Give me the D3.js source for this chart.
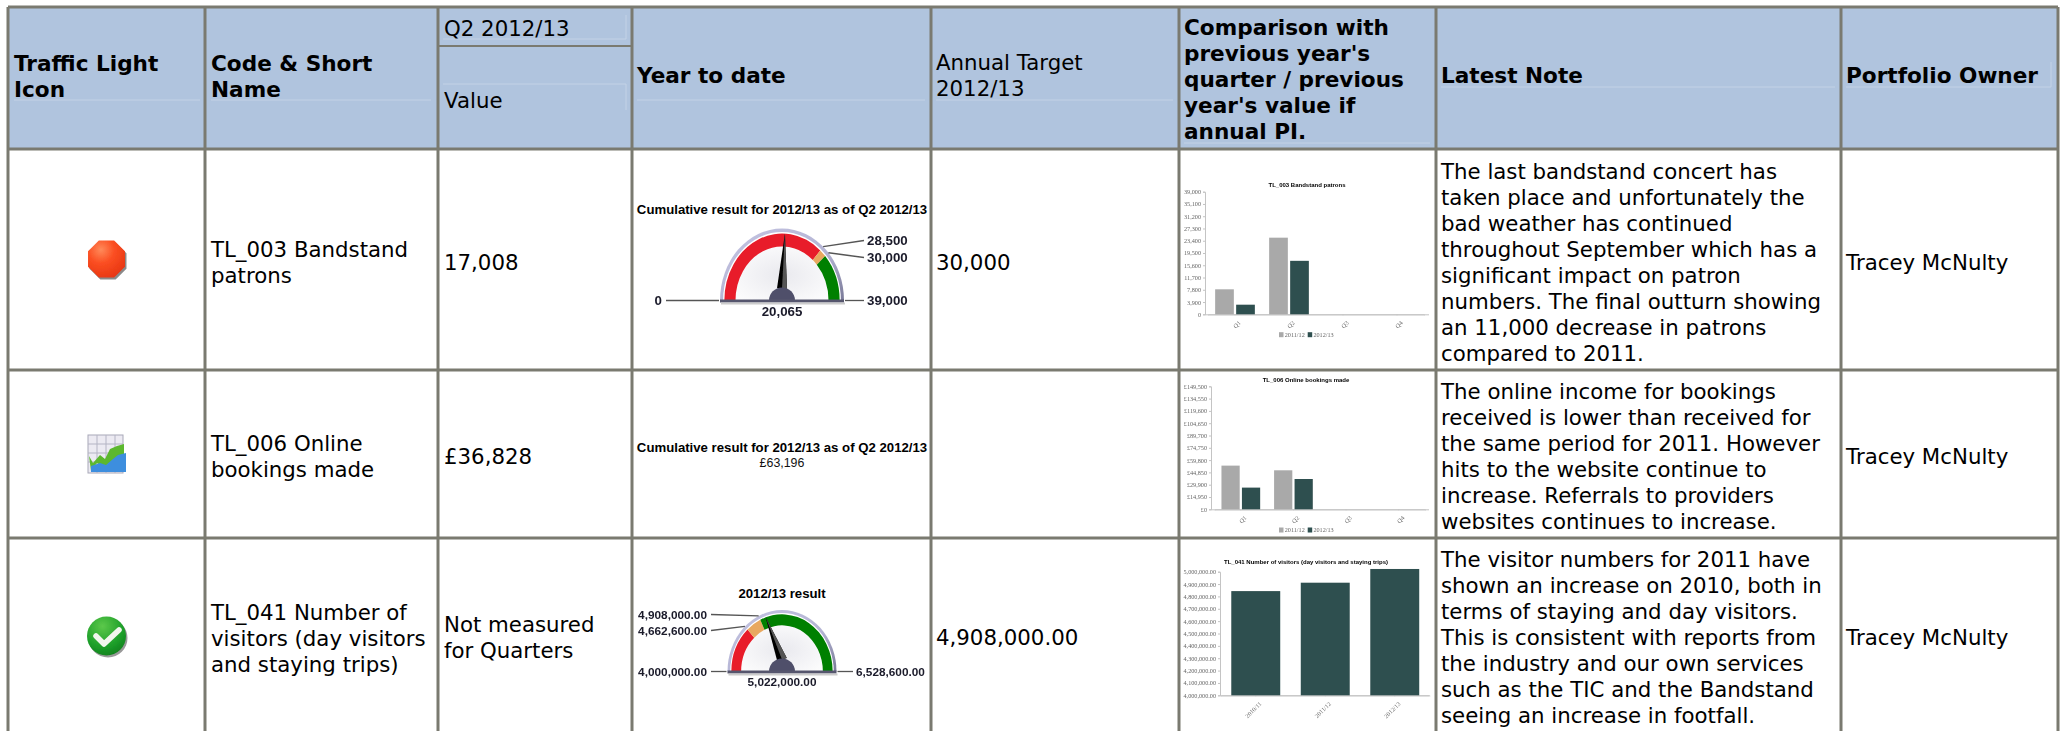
<!DOCTYPE html>
<meta charset="utf-8">
<style>
body { margin: 0; background: #fff; }
svg { display: block; }
</style>
<body>
<script src="https://d3js.org/d3.v7.min.js"></script>
<script>

// Table content.

var headerLabels = [
  ["Traffic Light", "Icon"],
  ["Code & Short", "Name"],
  ["Year to date"],
  ["Annual Target", "2012/13"],
  ["Comparison with", "previous year's", "quarter / previous", "year's value if", "annual PI."],
  ["Latest Note"],
  ["Portfolio Owner"]
];
var periodLabel = "Q2 2012/13";
var valueLabel = "Value";
var shortNames = [
  ["TL_003 Bandstand", "patrons"],
  ["TL_006 Online", "bookings made"],
  ["TL_041 Number of", "visitors (day visitors", "and staying trips)"]
];
var quarterValues = [["17,008"], ["£36,828"], ["Not measured", "for Quarters"]];
var annualTargets = ["30,000", "", "4,908,000.00"];
var owners = ["Tracey McNulty", "Tracey McNulty", "Tracey McNulty"];
var notes = [
  ["The last bandstand concert has", "taken place and unfortunately the", "bad weather has continued",
   "throughout September which has a", "significant impact on patron", "numbers. The final outturn showing",
   "an 11,000 decrease in patrons", "compared to 2011."],
  ["The online income for bookings", "received is lower than received for", "the same period for 2011. However",
   "hits to the website continue to", "increase. Referrals to providers", "websites continues to increase."],
  ["The visitor numbers for 2011 have", "shown an increase on 2010, both in", "terms of staying and day visitors.",
   "This is consistent with reports from", "the industry and our own services", "such as the TIC and the Bandstand",
   "seeing an increase in footfall."]
];

// Gauge values.

var gaugeTitles = ["Cumulative result for 2012/13 as of Q2 2012/13", "Cumulative result for 2012/13 as of Q2 2012/13", "2012/13 result"];
var patronsGauge = [0, 28500, 30000, 39000];
var patronsGaugeText = ["0", "28,500", "30,000", "39,000"];
var patronsResult = 20065;
var patronsResultText = "20,065";
var bookingsResultText = "£63,196";
var visitorsGauge = [4000000, 4662600, 4908000, 6528600];
var visitorsGaugeText = ["4,000,000.00", "4,662,600.00", "4,908,000.00", "6,528,600.00"];
var visitorsResult = 5022000;
var visitorsResultText = "5,022,000.00";

// Bar chart values.

var quarters = ["Q1", "Q2", "Q3", "Q4"];
var seriesNames = ["2011/12", "2012/13"];
var patronsPrev = [7950, 24375, 0, 0];
var patronsCur = [3057, 17008, 0, 0];
var patronsTicks = [0, 3900, 7800, 11700, 15600, 19500, 23400, 27300, 31200, 35100, 39000];
var bookingsPrev = [53100, 47400, 0, 0];
var bookingsCur = [26368, 36828, 0, 0];
var bookingsTicks = [0, 14950, 29900, 44850, 59800, 74750, 89700, 104650, 119600, 134550, 149500];
var visitorYears = ["2010/11", "2011/12", "2012/13"];
var visitorValues = [4843000, 4911000, 5022000];
var visitorTicks = [4000000, 4100000, 4200000, 4300000, 4400000, 4500000, 4600000, 4700000, 4800000, 4900000, 5000000];

// Set up the page.

var width = 2062,
    height = 731;

var colX = [8, 205, 438, 632, 931, 1179, 1436, 1841, 2058];
var rowY = [7, 149, 370, 538, 760];
var headFont = "DejaVu Sans, Verdana, sans-serif";
var chartFont = "Liberation Sans, Arial, sans-serif";
var smallFont = "Liberation Serif, serif";
var lineColor = "#7a7a70";
var headFill = "#b0c4de";
var lineHeight = 26;

var svg = d3.select("body").append("svg")
    .attr("width", width)
    .attr("height", height);

var defs = svg.append("defs");

defs.append("filter").attr("id", "soft")
    .append("feGaussianBlur").attr("stdDeviation", 0.4);
defs.append("filter").attr("id", "softer")
    .append("feGaussianBlur").attr("stdDeviation", 0.2);

var bezel = defs.append("linearGradient").attr("id", "bezel")
    .attr("x1", 0).attr("y1", 0).attr("x2", 1).attr("y2", 1);
bezel.append("stop").attr("offset", "0%").attr("stop-color", "#c4c4e2");
bezel.append("stop").attr("offset", "60%").attr("stop-color", "#b4b4d4");
bezel.append("stop").attr("offset", "100%").attr("stop-color", "#7a7a98");

var face = defs.append("radialGradient").attr("id", "face")
    .attr("cx", "50%").attr("cy", "55%").attr("r", "70%");
face.append("stop").attr("offset", "0%").attr("stop-color", "#e9e9ee");
face.append("stop").attr("offset", "100%").attr("stop-color", "#ffffff");

var redBall = defs.append("radialGradient").attr("id", "redBall")
    .attr("cx", "35%").attr("cy", "25%").attr("r", "80%");
redBall.append("stop").attr("offset", "0%").attr("stop-color", "#ff8a5a");
redBall.append("stop").attr("offset", "45%").attr("stop-color", "#fb4f22");
redBall.append("stop").attr("offset", "100%").attr("stop-color", "#e83612");

var greenBall = defs.append("radialGradient").attr("id", "greenBall")
    .attr("cx", "40%").attr("cy", "25%").attr("r", "85%");
greenBall.append("stop").attr("offset", "0%").attr("stop-color", "#5cc84a");
greenBall.append("stop").attr("offset", "60%").attr("stop-color", "#1ea02a");
greenBall.append("stop").attr("offset", "100%").attr("stop-color", "#0c7a1a");

// Multi line text helper, y is the centre of the block.

function block(parent, lines, x, y, weight) {
    var top = y - (lines.length - 1) * lineHeight / 2;
    parent.append("g").selectAll("text")
        .data(lines)
        .join("text")
        .attr("x", x)
        .attr("y", function(d, i) { return top + i * lineHeight; })
        .attr("dy", "0.36em")
        .attr("font-family", headFont)
        .attr("font-size", weight === "bold" ? 21.6 : 21.3)
        .attr("font-weight", weight || "normal")
        .attr("fill", "#000")
        .text(function(d) { return d; });
}

// Table grid.

var grid = svg.append("g");

grid.append("rect")
    .attr("x", colX[0]).attr("y", rowY[0])
    .attr("width", colX[8] - colX[0]).attr("height", rowY[1] - rowY[0])
    .attr("fill", headFill);

// Faint inner cell lines of the header.

var faint = [
  [14, 100, 200, 100], [211, 100, 431, 100], [443, 84, 626, 84], [626, 84, 626, 110],
  [443, 39, 626, 39], [626, 15, 626, 39], [1184, 143, 1430, 143], [1441, 87, 1835, 87],
  [1846, 87, 2051, 87], [2051, 62, 2051, 87], [637, 100, 925, 100], [936, 100, 1173, 100]
];
grid.selectAll("line.faint")
    .data(faint)
    .join("line")
    .attr("class", "faint")
    .attr("x1", function(d) { return d[0]; })
    .attr("y1", function(d) { return d[1]; })
    .attr("x2", function(d) { return d[2]; })
    .attr("y2", function(d) { return d[3]; })
    .attr("stroke", "#c3d2e6")
    .attr("stroke-width", 1);

grid.selectAll("line.col")
    .data(colX)
    .join("line")
    .attr("class", "col")
    .attr("x1", function(d) { return d; })
    .attr("x2", function(d) { return d; })
    .attr("y1", rowY[0])
    .attr("y2", height)
    .attr("stroke", lineColor)
    .attr("stroke-width", 3);

grid.selectAll("line.row")
    .data(rowY)
    .join("line")
    .attr("class", "row")
    .attr("x1", colX[0])
    .attr("x2", colX[8])
    .attr("y1", function(d) { return d; })
    .attr("y2", function(d) { return d; })
    .attr("stroke", lineColor)
    .attr("stroke-width", 3);

grid.append("line")
    .attr("x1", colX[2]).attr("x2", colX[3])
    .attr("y1", 46).attr("y2", 46)
    .attr("stroke", lineColor)
    .attr("stroke-width", 2);

// Header text.

var headColX = [colX[0] + 6, colX[1] + 6, colX[3] + 5, colX[4] + 5, colX[5] + 5, colX[6] + 5, colX[7] + 5];
var head = svg.append("g");
headerLabels.forEach(function(lines, i) {
    var weight = i === 3 ? "normal" : "bold";
    var y = i === 4 ? 79 : (i < 2 ? 76 : 75);
    block(head, lines, headColX[i], y, weight);
});
block(head, [periodLabel], colX[2] + 6, 28);
block(head, [valueLabel], colX[2] + 6, 100);

// Body text.

var rowCentre = [262, 456, 637];
var body = svg.append("g");
rowCentre.forEach(function(y, i) {
    block(body, shortNames[i], colX[1] + 6, i === 2 ? 638 : y);
    block(body, quarterValues[i], colX[2] + 6, y);
    block(body, [annualTargets[i]], colX[4] + 5, y);
    block(body, notes[i], colX[6] + 5, y);
    block(body, [owners[i]], colX[7] + 5, y);
});

// Traffic light icons.

var icons = svg.append("g").attr("filter", "url(#softer)");

var octagon = d3.range(8).map(function(i) {
    var a = Math.PI / 8 + i * Math.PI / 4;
    return [106.5 + 20 * Math.cos(a), 259 + 20 * Math.sin(a)];
});
var octLine = d3.line();
icons.append("path")
    .attr("d", octLine(octagon) + "Z")
    .attr("transform", "translate(1.5,2)")
    .attr("fill", "#8a8a8a");
icons.append("path")
    .attr("d", octLine(octagon) + "Z")
    .attr("fill", "url(#redBall)");

// Spreadsheet style icon.

var sheet = icons.append("g").attr("transform", "translate(88,435)");
sheet.append("rect").attr("x", 0).attr("y", 0).attr("width", 35).attr("height", 38)
    .attr("fill", "#eceaf2").attr("stroke", "#a8a8b8");
d3.range(1, 4).forEach(function(i) {
    sheet.append("line").attr("x1", i * 9).attr("x2", i * 9).attr("y1", 0).attr("y2", 38).attr("stroke", "#b4b4c4");
    sheet.append("line").attr("y1", i * 9).attr("y2", i * 9).attr("x1", 0).attr("x2", 35).attr("stroke", "#b4b4c4");
});
sheet.append("path")
    .attr("d", "M1,21 L5,28 L12,20 L17,24 L22,14 L29,11 L36,9 L36,27 L25,26 L17,33 L9,28 L3,36 Z")
    .attr("fill", "#5cb82e");
sheet.append("path")
    .attr("d", "M3,31 L12,28 L18,30 L25,24 L30,20 L38,18 L38,37 L3,37 Z")
    .attr("fill", "#3d8ede");

// Tick mark icon.

icons.append("circle").attr("cx", 108).attr("cy", 638).attr("r", 19.5).attr("fill", "#999");
icons.append("circle").attr("cx", 106.5).attr("cy", 636).attr("r", 19.5).attr("fill", "url(#greenBall)");
icons.append("path")
    .attr("d", "M96,636 L104,644 L119,630")
    .attr("fill", "none")
    .attr("stroke", "#f2f6ee")
    .attr("stroke-width", 5.5)
    .attr("stroke-linejoin", "round")
    .attr("stroke-linecap", "round");

// Gauges.

var gaugeColors = ["#e81e2a", "#e8a860", "#008000"];
var arc = d3.arc();

function drawGauge(cfg) {
    var g = svg.append("g")
        .attr("transform", "translate(" + [cfg.cx, cfg.base] + ")")
        .attr("filter", "url(#softer)");
    var angle = d3.scaleLinear()
        .domain([cfg.stops[0], cfg.stops[3]])
        .range([-Math.PI / 2, Math.PI / 2]);
    var dial = g.append("g").attr("transform", "scale(1," + cfg.ry / cfg.rx + ")");
    var half = function(inner, outer) {
        return arc({ innerRadius: inner, outerRadius: outer, startAngle: -Math.PI / 2, endAngle: Math.PI / 2 });
    };

    dial.append("path").attr("d", half(0, cfg.rx)).attr("fill", "url(#bezel)");
    dial.append("path").attr("d", half(0, cfg.rx * 0.95)).attr("fill", "#fff");
    dial.append("path").attr("d", half(0, cfg.rx * 0.78)).attr("fill", "url(#face)");

    // Coloured band, one sector between each pair of stops.
    dial.selectAll("path.band")
        .data(d3.pairs(cfg.stops))
        .join("path")
        .attr("class", "band")
        .attr("fill", function(d, i) { return gaugeColors[i]; })
        .attr("d", function(d) {
            return arc({
                innerRadius: cfg.rx * 0.75,
                outerRadius: cfg.rx * 0.93,
                startAngle: angle(d[0]),
                endAngle: angle(d[1])
            });
        });

    // Leader lines and labels.
    var rim = function(v) {
        var a = angle(v);
        return [cfg.rx * Math.sin(a), -cfg.ry * Math.cos(a)];
    };
    cfg.stops.forEach(function(v, i) {
        var p = rim(v),
            lab = cfg.labels[i];
        g.append("line")
            .attr("x1", p[0] + (i === 0 ? -1 : i === 3 ? 1 : 0))
            .attr("y1", i === 0 || i === 3 ? lab[1] : p[1])
            .attr("x2", lab[0] + (lab[2] === "end" ? 4 : -3))
            .attr("y2", lab[1])
            .attr("stroke", "#555")
            .attr("stroke-width", 1.3);
        g.append("text")
            .attr("x", lab[0])
            .attr("y", lab[1])
            .attr("dy", "0.36em")
            .attr("text-anchor", lab[2])
            .attr("font-family", chartFont)
            .attr("font-size", cfg.labelSize)
            .attr("font-weight", "bold")
            .attr("fill", "#1a1a2a")
            .text(cfg.text[i]);
    });

    // Needle, black on one side and grey on the other.
    var a = angle(cfg.result),
        tipX = cfg.ry * 0.9 * Math.sin(a),
        tipY = -cfg.ry * 0.93 * Math.cos(a),
        sideX = 5 * Math.cos(a),
        sideY = 5 * Math.sin(a);
    g.append("path")
        .attr("d", "M" + [-sideX, -12 - sideY] + "L" + [tipX, tipY] + "L" + [sideX, -12 + sideY] + "Z")
        .attr("fill", "#000");
    g.append("path")
        .attr("d", "M0,-12L" + [tipX, tipY] + "L" + [sideX, -12 + sideY] + "Z")
        .attr("fill", "#555");

    g.append("path").attr("d", half(0, 13)).attr("fill", "#50506a");
    g.append("rect")
        .attr("x", -cfg.rx).attr("y", -1)
        .attr("width", cfg.rx * 2).attr("height", 3)
        .attr("fill", "#56566e");
    g.append("rect")
        .attr("x", -cfg.rx + 1).attr("y", 2)
        .attr("width", cfg.rx * 2).attr("height", 2)
        .attr("fill", "#ccc");

    g.append("text")
        .attr("x", 0)
        .attr("y", cfg.resultDy)
        .attr("dy", "0.36em")
        .attr("text-anchor", "middle")
        .attr("font-family", chartFont)
        .attr("font-size", cfg.labelSize)
        .attr("font-weight", "bold")
        .attr("fill", "#1a1a2a")
        .text(cfg.resultText);
}

function gaugeTitle(text, y) {
    svg.append("text")
        .attr("x", 782)
        .attr("y", y)
        .attr("dy", "0.36em")
        .attr("text-anchor", "middle")
        .attr("font-family", chartFont)
        .attr("font-size", 13.2)
        .attr("font-weight", "bold")
        .attr("fill", "#000")
        .text(text);
}

gaugeTitle(gaugeTitles[0], 209);
drawGauge({
    cx: 782, base: 300.5, rx: 62, ry: 72,
    stops: patronsGauge,
    text: patronsGaugeText,
    result: patronsResult,
    resultText: patronsResultText,
    resultDy: 11,
    labelSize: 13.3,
    labels: [[-120, 0, "end"], [85, -60, "start"], [85, -43, "start"], [85, 0, "start"]]
});

gaugeTitle(gaugeTitles[1], 447);
svg.append("text")
    .attr("x", 782)
    .attr("y", 463)
    .attr("dy", "0.36em")
    .attr("text-anchor", "middle")
    .attr("font-family", chartFont)
    .attr("font-size", 12.4)
    .attr("fill", "#111")
    .text(bookingsResultText);

gaugeTitle(gaugeTitles[2], 593);
drawGauge({
    cx: 782, base: 671.5, rx: 54.5, ry: 61.5,
    stops: visitorsGauge,
    text: visitorsGaugeText,
    result: visitorsResult,
    resultText: visitorsResultText,
    resultDy: 10,
    labelSize: 11.8,
    labels: [[-75, 0, "end"], [-75, -41, "end"], [-75, -57, "end"], [74, 0, "start"]]
});

// Small comparison charts.

function styleAxis(g) {
    g.selectAll("path, line").attr("stroke", "#c4c4c4");
    g.selectAll("text")
        .attr("font-family", smallFont)
        .attr("font-size", 6.2)
        .attr("fill", "#666");
}

function smallChart(cfg) {
    var g = svg.append("g").attr("filter", "url(#soft)");
    var y = d3.scaleLinear()
        .domain([cfg.ticks[0], cfg.ticks[cfg.ticks.length - 1]])
        .range([cfg.bottom, cfg.top]);
    var x = d3.scaleBand()
        .domain(cfg.categories)
        .range([cfg.plotLeft, cfg.plotRight])
        .padding(0);

    g.append("g")
        .attr("transform", "translate(" + cfg.left + ",0)")
        .call(d3.axisLeft(y).tickValues(cfg.ticks).tickSize(2).tickPadding(2).tickFormat(cfg.format))
        .call(styleAxis);

    var xAxis = g.append("g")
        .attr("transform", "translate(0," + cfg.bottom + ")")
        .call(d3.axisBottom(x).tickSize(1).tickPadding(3))
        .call(styleAxis);
    xAxis.selectAll("text")
        .attr("text-anchor", "end")
        .attr("dy", "0.6em")
        .attr("transform", "rotate(-45) translate(-2,3)");

    g.append("line")
        .attr("x1", cfg.left).attr("x2", cfg.right)
        .attr("y1", cfg.bottom + 0.5).attr("y2", cfg.bottom + 0.5)
        .attr("stroke", "#c4c4c4");

    var inner = d3.scaleBand()
        .domain(d3.range(cfg.series.length))
        .range([0, x.bandwidth()])
        .paddingInner(cfg.series.length > 1 ? 0.11 : 0)
        .paddingOuter(cfg.outer)
        .align(0.5);

    cfg.series.forEach(function(values, s) {
        g.append("g").selectAll("rect")
            .data(values)
            .join("rect")
            .attr("x", function(d, i) { return x(cfg.categories[i]) + inner(s); })
            .attr("width", inner.bandwidth())
            .attr("y", function(d) { return Math.max(y(d), cfg.top - 3); })
            .attr("height", function(d) { return d > y.domain()[0] ? cfg.bottom - Math.max(y(d), cfg.top - 3) : 0; })
            .attr("fill", cfg.colors[s]);
    });

    g.append("text")
        .attr("x", cfg.titleX)
        .attr("y", cfg.titleY)
        .attr("text-anchor", "middle")
        .attr("dy", "0.36em")
        .attr("font-family", chartFont)
        .attr("font-size", 6)
        .attr("font-weight", "bold")
        .attr("fill", "#000")
        .text(cfg.title);

    if (cfg.legendY) {
        var lg = g.append("g").attr("transform", "translate(" + cfg.legendX + "," + cfg.legendY + ")");
        seriesNames.forEach(function(name, i) {
            lg.append("rect").attr("x", i * 28.7).attr("y", -2.5).attr("width", 4.5).attr("height", 5).attr("fill", cfg.colors[i]);
            lg.append("text").attr("x", i * 28.7 + 5.7).attr("dy", "0.36em")
                .attr("font-family", smallFont).attr("font-size", 6.2).attr("fill", "#666").text(name);
        });
    }
}

var barColors = ["#a9a9a9", "#2f4f4f"];
var plainNumber = d3.format(",");
var poundNumber = function(d) { return "£" + d3.format(",")(d); };
var twoDecimals = d3.format(",.2f");

smallChart({
    left: 1205, right: 1429, plotLeft: 1208, plotRight: 1424, top: 191.7, bottom: 314.3,
    categories: quarters, series: [patronsPrev, patronsCur], ticks: patronsTicks,
    format: plainNumber, colors: barColors, outer: 0.34,
    title: "TL_003 Bandstand patrons", titleX: 1307, titleY: 185,
    legendX: 1279, legendY: 334.7
});

smallChart({
    left: 1211, right: 1429, plotLeft: 1214.5, plotRight: 1425, top: 386.3, bottom: 509.3,
    categories: quarters, series: [bookingsPrev, bookingsCur], ticks: bookingsTicks,
    format: poundNumber, colors: barColors, outer: 0.34,
    title: "TL_006 Online bookings made", titleX: 1306, titleY: 380,
    legendX: 1279, legendY: 530
});

smallChart({
    left: 1220, right: 1429, plotLeft: 1221, plotRight: 1429.5, top: 571.7, bottom: 695.3,
    categories: visitorYears, series: [visitorValues], ticks: visitorTicks,
    format: twoDecimals, colors: ["#2f4f4f"], outer: 0.21,
    title: "TL_041 Number of visitors (day visitors and staying trips)", titleX: 1306, titleY: 562
});

</script>
